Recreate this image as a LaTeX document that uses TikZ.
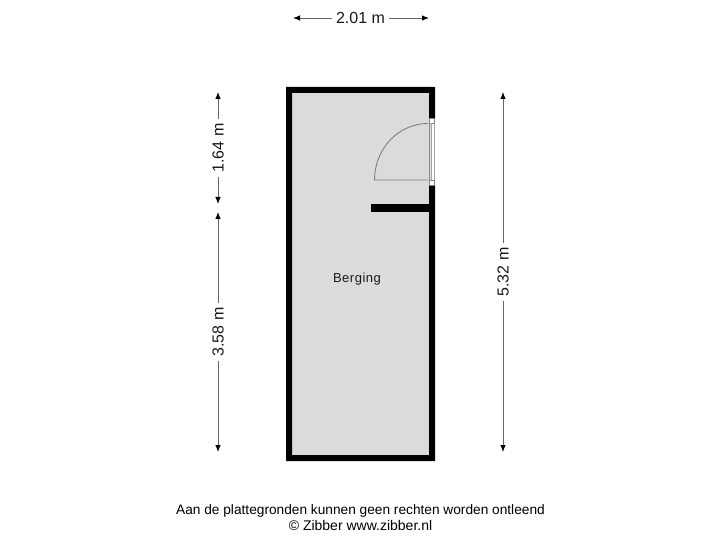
\documentclass[tikz,border=0pt]{standalone}
\usepackage{fontspec}
\setmainfont{Liberation Sans}
\usetikzlibrary{arrows.meta}
\tikzset{
  dimline/.style={draw=black!60,line width=0.9pt,-{Latex[black,length=7pt,width=5.5pt]}},
  dimlabel/.style={inner sep=0pt,text=black!90,font=\fontsize{16}{18}\selectfont},
  wall/.style={fill=black,draw=none},
  doorline/.style={draw=black!50,line width=0.9pt},
}
\begin{document}
\begin{tikzpicture}[x=1pt,y=-1pt]
\useasboundingbox (0,0) rectangle (720,540);
% floor and walls
\fill[black!14] (289,90) rectangle (432,458);
\fill[wall,even odd rule] (286,87) -- (435,87) -- (435,118) -- (429,118) -- (429,93) -- (292,93) -- (292,455) -- (429,455) -- (429,185) -- (435,185) -- (435,461) -- (286,461) -- cycle;
\fill[wall] (371,204) rectangle (429,212);
% door
\fill[white] (429,123) rectangle (435,180);
\draw[draw=black!50,line width=0.7pt,fill=white] (429.5,118.5) rectangle (434.5,123.5);
\draw[draw=black!50,line width=0.7pt,fill=white] (429.5,180.5) rectangle (434.5,185.5);
\draw[draw=black!45,line width=0.7pt,fill=black!14] (429,123.5) rectangle (431.5,180.5);
\draw[draw=black!35,line width=0.6pt] (431.5,123.5) -- (431.5,180.5) (434.5,123.5) -- (434.5,180.5);
\draw[doorline] (428,123.5) arc[start angle=90,end angle=180,x radius=53.5,y radius=-56.5] -- (428,180);
% dimensions
\coordinate (t1) at (293,18); \coordinate (t2) at (429,18);
\node[dimlabel] (top) at (360.5,18) {2.01 m};
\draw[dimline] (top.west) ++(-4,0) -- (t1);
\draw[dimline] (top.east) ++(4,0) -- (t2);
\coordinate (a1) at (218,92); \coordinate (a2) at (218,204);
\node[dimlabel,rotate=90] (da) at (218,148) {1.64 m};
\draw[dimline] (da.east) ++(0,-4) -- (a1);
\draw[dimline] (da.west) ++(0,4) -- (a2);
\coordinate (b1) at (218,212); \coordinate (b2) at (218,452);
\node[dimlabel,rotate=90] (db) at (218,332) {3.58 m};
\draw[dimline] (db.east) ++(0,-4) -- (b1);
\draw[dimline] (db.west) ++(0,4) -- (b2);
\coordinate (c1) at (503,92); \coordinate (c2) at (503,452);
\node[dimlabel,rotate=90] (dc) at (503,272) {5.32 m};
\draw[dimline] (dc.east) ++(0,-4) -- (c1);
\draw[dimline] (dc.west) ++(0,4) -- (c2);
% labels
\node[inner sep=0pt,font=\fontsize{13}{16}\selectfont,text=black!90] (room) at (357,279) {\addfontfeature{LetterSpace=4}Berging};
\node[inner sep=0pt,font=\fontsize{13.7}{16}\selectfont,text=black] (cap1) at (360.5,510.5) {Aan de plattegronden kunnen geen rechten worden ontleend};
\node[inner sep=0pt,font=\fontsize{14}{16}\selectfont,text=black] (cap2) at (360.5,525) {© Zibber www.zibber.nl};
\end{tikzpicture}
\end{document}
